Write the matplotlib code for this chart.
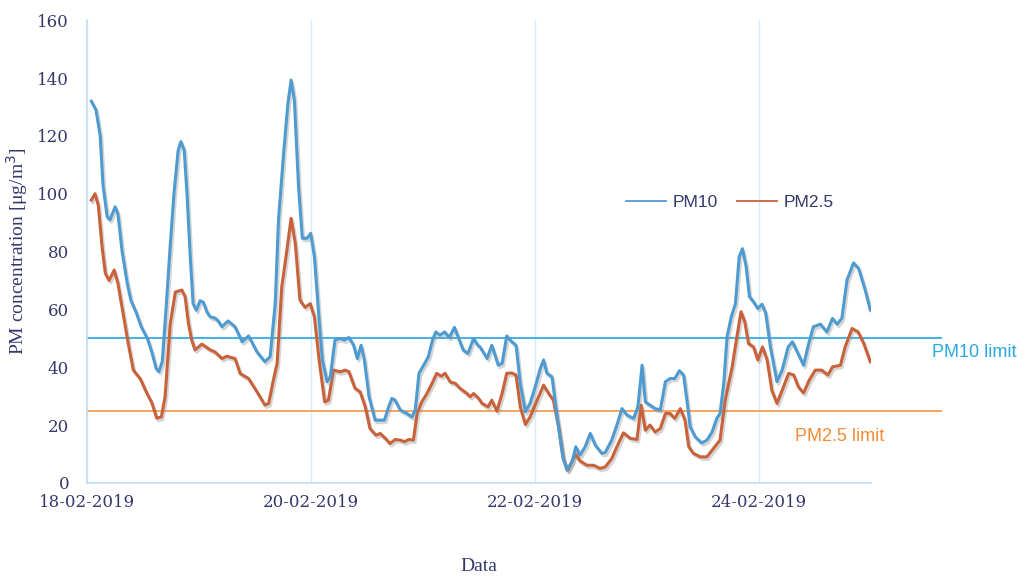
import pandas as pd
import matplotlib
matplotlib.use("Agg")
import matplotlib.pyplot as plt
import matplotlib.dates as mdates
import matplotlib.patheffects as pe

pm10_hours = [0.9, 1.9, 2.8, 3.4, 4.3, 4.9, 6.0, 6.6, 7.5, 8.6, 9.4, 10.5, 11.6, 12.9, 13.9,
              14.8, 15.4, 16.1, 16.9, 17.8, 18.6, 19.5, 20.1, 20.8, 21.4, 22.1, 22.7, 23.4,
              24.2, 24.9, 25.7, 26.4, 27.4, 28.1, 28.9, 30.2, 31.7, 33.2, 34.6, 36.4, 38.1,
              39.2, 40.3, 41.0, 42.1, 43.0, 43.7, 44.4, 45.3, 46.1, 47.1, 47.9, 48.7, 49.6,
              50.4, 51.4, 52.1, 53.1, 54.2, 55.1, 56.1, 57.1, 57.9, 58.7, 59.4, 60.4, 61.7,
              62.8, 63.7, 64.6, 65.3, 66.0, 67.1, 68.5, 69.6, 70.3, 71.1, 72.1, 73.1, 74.0,
              74.7, 75.6, 76.6, 77.6, 78.7, 79.6, 80.6, 81.6, 82.8, 83.7, 84.2, 85.7, 86.7,
              88.1, 88.9, 89.9, 91.0, 91.9, 92.8, 93.9, 94.9, 96.0, 97.1, 97.8, 98.5, 99.6,
              100.7, 101.9, 102.8, 103.9, 104.7, 105.6, 106.7, 107.8, 108.9, 110.3, 111.0,
              112.4, 113.5, 114.6, 115.7, 117.1, 118.0, 118.9, 119.6, 120.6, 121.7, 122.8,
              123.9, 124.9, 125.9, 126.9, 127.8, 128.5, 129.2, 130.3, 131.7, 132.8, 133.9,
              134.9, 135.6, 136.4, 137.1, 138.0, 138.9, 139.7, 140.4, 141.2, 141.9, 142.8,
              143.7, 144.6, 145.4, 146.4, 147.8, 148.9, 150.2, 151.1, 152.3, 153.5, 154.6,
              155.6, 157.1, 158.5, 159.7, 160.7, 161.7, 162.8, 164.2, 165.3, 166.7, 167.8]
pm10 = [132, 129, 120, 103, 92, 91, 95.5, 93, 80, 69, 63, 59, 54, 50, 45,
        39.5, 38.5, 42, 60, 82, 100, 115, 118, 115, 100, 78, 62, 59.7,
        63, 62.5, 59, 57.4, 57, 56, 54, 56, 54, 48.8, 50.8, 45.3, 41.9,
        43.6, 62, 91, 114, 131, 139.3, 132.4, 102.4, 84.6, 84.6, 86.3, 78.2, 58.6,
        42.5, 35, 36.7, 49.4, 50, 49.4, 50.3, 47.6, 43, 47.6, 42.5, 29.8, 21.7,
        21.7, 21.7, 26.3, 29.2, 28.6, 25.2, 24, 22.8, 25.2, 37.9, 40.7, 43.6, 49.4,
        52.2, 51.1, 52.2, 50.3, 53.8, 50, 45.9, 44.8, 50, 47.6, 47, 43, 47.6,
        40.7, 41.3, 50.8, 48.8, 47.6, 34.4, 24.6, 27.5, 33.2, 39.6, 42.5, 37.9, 36.7,
        22.8, 9, 4.4, 7.3, 12.5, 9.6, 12.5, 17.1, 13, 10.2, 10.5,
        14.8, 20, 25.7, 23.4, 22.3, 26.3, 40.7, 28, 26.9, 25.7, 25.2,
        35, 36.1, 36.1, 38.8, 37.3, 28.6, 19.4, 15.9, 13.8, 14.8, 17.6,
        22.3, 24, 34.4, 50.5, 57.4, 62, 78.2, 81, 74.7, 64.4, 62.6,
        60.3, 61.8, 58.6, 47, 35, 39, 47, 48.8, 44.8, 40.7, 48.2,
        54, 54.9, 52.2, 56.9, 54.9, 56.9, 70.1, 76.1, 74.2, 66.7, 59.8]

pm25_hours = [0.9, 1.7, 2.4, 3.2, 3.9, 4.7, 5.8, 6.6, 7.7, 8.8, 9.9, 11.4, 12.8, 13.9, 14.9,
              15.9, 16.7, 17.8, 18.9, 20.3, 21.0, 21.7, 22.4, 23.1, 24.6, 26.4, 27.4, 28.9,
              29.9, 31.7, 32.8, 34.6, 36.4, 38.1, 38.9, 39.9, 40.7, 41.7, 42.8, 43.7, 44.6,
              45.6, 46.7, 47.8, 48.7, 49.7, 50.9, 51.7, 52.8, 54.2, 55.3, 56.1, 57.4, 58.5,
              59.6, 60.6, 61.9, 62.8, 63.9, 64.9, 66.0, 67.1, 68.0, 68.9, 69.9, 70.7, 71.7,
              72.8, 73.9, 74.9, 75.9, 76.7, 77.8, 78.9, 79.9, 81.4, 82.1, 82.8, 83.9, 84.6,
              85.9, 86.7, 87.8, 88.9, 89.9, 91.0, 91.9, 92.8, 93.9, 94.9, 96.4, 97.8, 98.9,
              99.9, 101.0, 102.1, 103.0, 104.0, 104.7, 105.6, 107.1, 108.5, 109.9, 111.0,
              112.4, 113.5, 114.9, 116.4, 117.8, 118.7, 119.6, 120.6, 121.7, 122.8, 123.9,
              124.9, 125.9, 127.1, 128.1, 128.9, 129.9, 131.4, 132.8, 134.2, 135.6, 136.7,
              138.2, 139.1, 140.1, 140.9, 141.7, 142.8, 143.7, 144.7, 145.7, 146.7, 147.8,
              148.9, 150.3, 151.4, 152.4, 153.5, 154.7, 156.0, 157.4, 158.7, 159.7, 161.4,
              162.4, 163.9, 165.2, 166.4, 167.8]
pm25 = [97.8, 100, 96, 81.7, 72.5, 70, 73.6, 69, 58.7, 48.3, 39, 36, 31, 27.6, 22.4,
        22.8, 29.8, 55, 66, 66.7, 64.4, 55.2, 49.4, 46, 48, 46, 45.3, 43,
        43.8, 43, 37.8, 36.1, 31.5, 26.9, 27.5, 35.5, 41.3, 67.8, 80.5, 91.5, 82.8,
        63.2, 60.7, 62, 57.4, 42.5, 28, 28.6, 39, 38.4, 39, 38.4, 32.7, 31.5,
        26.3, 18.8, 16.5, 17.1, 15.4, 13.6, 15, 14.8, 14.2, 15, 14.8, 24, 28,
        30.9, 34.4, 37.9, 36.9, 37.9, 34.9, 34.4, 32.7, 30.9, 29.8, 30.9, 29.2, 27.5,
        26.3, 28.6, 24.8, 30.9, 37.9, 38, 37.3, 26.3, 20.2, 22.8, 28.6, 33.8, 30.9,
        28.6, 19.4, 7.9, 4.4, 7.9, 9.9, 7.6, 6.1, 6.1, 5, 5.5,
        8.4, 12.5, 17.3, 15.4, 15, 26.9, 18.2, 20, 17.6, 18.8, 24,
        24, 22.3, 25.7, 21.7, 12.5, 10.2, 9, 9, 11.9, 14.8, 28.6,
        40.1, 49.4, 59.2, 55.7, 48.2, 47, 42.5, 47, 42.5, 32, 27.5,
        32, 37.9, 37.3, 33.2, 31.1, 35.5, 39, 39, 37.3, 40.1, 40.7,
        47, 53.4, 52.2, 48.2, 41.9]

pm10_limit = 50
pm25_limit = 25
limit_end_hour = 183
tick_days = [0, 2, 4, 6]

start = pd.Timestamp("2019-02-18")
t10 = start + pd.to_timedelta(pm10_hours, unit="h")
t25 = start + pd.to_timedelta(pm25_hours, unit="h")
t_lim = [start, start + pd.Timedelta(hours=limit_end_hour)]

navy = "#35386b"
shadow = [pe.SimpleLineShadow(offset=(1.2, -1.8), shadow_color="#888888", alpha=0.35),
          pe.Normal()]

fig = plt.figure(figsize=(10.25, 5.79), dpi=100)
ax = fig.add_axes([0.085, 0.166, 0.765, 0.799])

ax.plot(t10, pm10, color="#4d9bd0", lw=2.2, solid_joinstyle="round",
        path_effects=shadow, label="PM10", zorder=4)
ax.plot(t25, pm25, color="#c9613b", lw=2.2, solid_joinstyle="round",
        path_effects=shadow, label="PM2.5", zorder=3)

# limit lines run past the right end of the axis
ax.plot(t_lim, [pm10_limit] * 2, color="#3fb3e6", lw=1.4, clip_on=False, zorder=2)
ax.plot(t_lim, [pm25_limit] * 2, color="#f7a462", lw=1.4, clip_on=False, zorder=2)

ax.text(1.077, 45, "PM10 limit", transform=ax.get_yaxis_transform(),
        color="#29a9e0", fontsize=13, family="Liberation Sans", va="center", ha="left")
ax.text(0.903, 16, "PM2.5 limit", transform=ax.get_yaxis_transform(),
        color="#f78a34", fontsize=13, family="Liberation Sans", va="center", ha="left")

ax.set_xlim(start, start + pd.Timedelta(days=7))
ax.set_ylim(0, 160)
ax.set_yticks(range(0, 161, 20))
ax.set_xticks([start + pd.Timedelta(days=d) for d in tick_days])
ax.xaxis.set_major_formatter(mdates.DateFormatter("%d-%m-%Y"))

ax.grid(axis="x", color="#d6ecfb", lw=1)
ax.set_axisbelow(True)
for s in ["top", "right"]:
    ax.spines[s].set_visible(False)
for s in ["left", "bottom"]:
    ax.spines[s].set_color("#c5dcf2")
    ax.spines[s].set_linewidth(1.2)
ax.tick_params(length=0, labelsize=12, labelcolor=navy)
ax.tick_params(axis="x", pad=8)
ax.tick_params(axis="y", pad=13)
for lab in ax.get_xticklabels() + ax.get_yticklabels():
    lab.set_family("DejaVu Serif")

ax.set_xlabel("Data", fontsize=14, color=navy, family="Liberation Serif", labelpad=34)
ax.set_ylabel("PM concentration [μg/m$^3$]", fontsize=14, color=navy,
              family="Liberation Serif", labelpad=5)

leg = ax.legend(loc="center", bbox_to_anchor=(0.82, 0.607), ncol=2, frameon=False,
                handlelength=2.3, columnspacing=1.1, handletextpad=0.4,
                prop={"family": "Liberation Sans", "size": 12.5})
for txt in leg.get_texts():
    txt.set_color(navy)
for h in leg.legend_handles:
    h.set_linewidth(1.3)
    h.set_path_effects([])

fig.savefig("out.png", dpi=100)
